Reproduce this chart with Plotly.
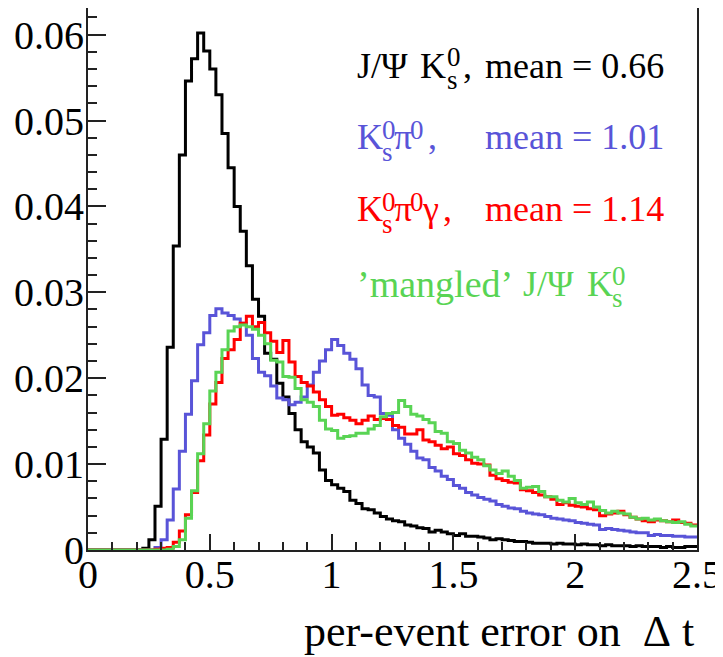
import plotly.graph_objects as go

# ---- data: histogram contents, 100 bins of width 0.025 over [0, 2.5] ----
X_MIN = 0.0
BIN_WIDTH = 0.025
N_BINS = 100

jpsi_ks = [
    0, 0, 0, 0, 0, 0, 0, 0, 0, 0.0002,
    0.0012, 0.0051, 0.0129, 0.0236, 0.0354, 0.0460, 0.0546, 0.0572, 0.0602, 0.0581,
    0.0560, 0.0530, 0.0485, 0.0445, 0.0400, 0.0371, 0.0331, 0.0292, 0.0272, 0.0229,
    0.0222, 0.0194, 0.0178, 0.0159, 0.0140, 0.0126, 0.0120, 0.0113, 0.0093, 0.0081,
    0.0076, 0.0072, 0.0068, 0.0058, 0.0054, 0.0048, 0.0047, 0.0043, 0.0039, 0.0036,
    0.0034, 0.0033, 0.0029, 0.0028, 0.0026, 0.0025, 0.0021, 0.0023, 0.0021, 0.0019,
    0.0017, 0.0019, 0.0016, 0.0016, 0.0015, 0.0014, 0.0012, 0.0013, 0.0012, 0.0011,
    0.0010, 0.0010, 0.0009, 0.0008, 0.0008, 0.0008, 0.0007, 0.0008, 0.0007, 0.0007,
    0.0006, 0.0007, 0.0006, 0.0006, 0.0005, 0.0006, 0.0005, 0.0005, 0.0005, 0.0004,
    0.0005, 0.0004, 0.0004, 0.0004, 0.0003, 0.0004, 0.0003, 0.0003, 0.0004, 0.0004,
]

ks_pi0 = [
    0, 0, 0, 0, 0, 0, 0, 0, 0, 0,
    0, 0.0003, 0.0012, 0.0035, 0.0071, 0.0115, 0.0158, 0.0197, 0.0239, 0.0253,
    0.0273, 0.0281, 0.0276, 0.0273, 0.0269, 0.0264, 0.0250, 0.0223, 0.0207, 0.0203,
    0.0191, 0.0177, 0.0175, 0.0169, 0.0172, 0.0178, 0.0192, 0.0207, 0.0220, 0.0233,
    0.0245, 0.0238, 0.0229, 0.0222, 0.0211, 0.0192, 0.0180, 0.0178, 0.0159, 0.0157,
    0.0140, 0.0130, 0.0123, 0.0115, 0.0107, 0.0105, 0.0096, 0.0092, 0.0086, 0.0082,
    0.0075, 0.0072, 0.0067, 0.0064, 0.0061, 0.0059, 0.0057, 0.0053, 0.0051, 0.0049,
    0.0048, 0.0045, 0.0043, 0.0042, 0.0041, 0.0039, 0.0037, 0.0036, 0.0035, 0.0034,
    0.0032, 0.0031, 0.0030, 0.0029, 0.0024, 0.0025, 0.0024, 0.0023, 0.0022, 0.0021,
    0.0020, 0.0020, 0.0017, 0.0018, 0.0017, 0.0017, 0.0016, 0.0016, 0.0015, 0.0015,
]

ks_pi0_gamma = [
    0, 0, 0, 0, 0, 0, 0, 0, 0, 0,
    0, 0.0001, 0.0002, 0.0003, 0.0009, 0.0022, 0.0041, 0.0067, 0.0104, 0.0134,
    0.0170, 0.0195, 0.0223, 0.0233, 0.0245, 0.0264, 0.0272, 0.0260, 0.0265, 0.0253,
    0.0243, 0.0230, 0.0244, 0.0219, 0.0202, 0.0195, 0.0191, 0.0184, 0.0175, 0.0167,
    0.0157, 0.0158, 0.0154, 0.0151, 0.0147, 0.0151, 0.0156, 0.0152, 0.0153, 0.0152,
    0.0145, 0.0143, 0.0135, 0.0135, 0.0140, 0.0128, 0.0126, 0.0122, 0.0118, 0.0120,
    0.0112, 0.0110, 0.0105, 0.0101, 0.0100, 0.0099, 0.0087, 0.0083, 0.0081, 0.0079,
    0.0078, 0.0070, 0.0069, 0.0067, 0.0064, 0.0062, 0.0059, 0.0053, 0.0055, 0.0052,
    0.0051, 0.0050, 0.0048, 0.0047, 0.0040, 0.0042, 0.0043, 0.0045, 0.0041, 0.0038,
    0.0036, 0.0034, 0.0033, 0.0035, 0.0034, 0.0033, 0.0035, 0.0032, 0.0031, 0.0029,
]

mangled_jpsi_ks = [
    0, 0, 0, 0, 0, 0, 0, 0, 0, 0,
    0, 0, 0, 0.0001, 0.0004, 0.0012, 0.0037, 0.0069, 0.0112, 0.0147,
    0.0185, 0.0207, 0.0233, 0.0255, 0.0260, 0.0262, 0.0260, 0.0257, 0.0250, 0.0240,
    0.0221, 0.0219, 0.0202, 0.0201, 0.0188, 0.0175, 0.0172, 0.0167, 0.0151, 0.0141,
    0.0139, 0.0130, 0.0132, 0.0133, 0.0136, 0.0136, 0.0141, 0.0145, 0.0155, 0.0159,
    0.0160, 0.0174, 0.0167, 0.0158, 0.0156, 0.0152, 0.0148, 0.0138, 0.0136, 0.0126,
    0.0124, 0.0116, 0.0113, 0.0108, 0.0105, 0.0098, 0.0093, 0.0089, 0.0092, 0.0086,
    0.0081, 0.0072, 0.0073, 0.0074, 0.0068, 0.0062, 0.0062, 0.0058, 0.0056, 0.0060,
    0.0055, 0.0053, 0.0056, 0.0050, 0.0046, 0.0043, 0.0045, 0.0043, 0.0042, 0.0038,
    0.0036, 0.0037, 0.0035, 0.0036, 0.0034, 0.0033, 0.0032, 0.0033, 0.0030, 0.0028,
]

series_names = ["J/Ψ K_s^0", "K_s^0 π^0", "K_s^0 π^0 γ", "'mangled' J/Ψ K_s^0"]
series_means = ["0.66", "1.01", "1.14", None]
colors = ["#000000", "#5954d8", "#ff0000", "#59d454"]

x_ticks = [0, 0.5, 1, 1.5, 2, 2.5]
x_tick_text = ["0", "0.5", "1", "1.5", "2", "2.5"]
y_ticks = [0, 0.01, 0.02, 0.03, 0.04, 0.05, 0.06]
y_tick_text = ["0", "0.01", "0.02", "0.03", "0.04", "0.05", "0.06"]
x_title = "per-event error on\u00a0\u00a0Δ\u00a0t"

FONT = "Liberation Serif"

edges = [X_MIN + i * BIN_WIDTH for i in range(N_BINS + 1)]

fig = go.Figure()
for vals, col, name in zip([jpsi_ks, ks_pi0, ks_pi0_gamma, mangled_jpsi_ks], colors, series_names):
    fig.add_trace(go.Scatter(
        x=edges, y=list(vals) + [vals[-1]],
        mode="lines", line=dict(color=col, width=3, shape="hv"),
        name=name, showlegend=False, hoverinfo="skip",
    ))

axis_common = dict(
    showline=True, linecolor="#222222", linewidth=2, mirror=True,
    ticks="inside", tickcolor="#222222", tickwidth=1.5,
    showgrid=False, zeroline=False, automargin=False,
    tickfont=dict(family=FONT, size=40, color="black"),
)

# page body has an 8px default margin: the figure is shifted accordingly
fig.update_layout(
    width=715, height=649,
    margin=dict(l=80, r=26, t=0, b=107),
    paper_bgcolor="white", plot_bgcolor="white",
    font=dict(family=FONT),
    xaxis=dict(range=[0, 2.5], tickvals=x_ticks, ticktext=x_tick_text, ticklen=16,
               ticklabelstandoff=-12,
               minor=dict(dtick=0.1, tick0=0, ticks="inside", ticklen=8, tickcolor="#222222", tickwidth=1.5),
               **axis_common),
    yaxis=dict(range=[0, 0.0631], tickvals=y_ticks, ticktext=y_tick_text, ticklen=18,
               ticklabelstandoff=-6,
               minor=dict(dtick=0.002, tick0=0, ticks="inside", ticklen=9, tickcolor="#222222", tickwidth=1.5),
               **axis_common),
)

# screen-pixel -> paper coordinates (plot area spans x 88..697, y 8..550 on screen)
def px2paper(px, py):
    return (px - 88) / 609.0, (550 - py) / 542.0

ann = []

def add_text(text, px, py, color, size=36, anchor="left"):
    x, y = px2paper(px, py)
    ann.append(dict(x=x, y=y, xref="paper", yref="paper", xanchor=anchor, yanchor="middle",
                    text=text, showarrow=False, font=dict(family=FONT, size=size, color=color)))

SMALL = 27

# x axis title, right-aligned at the axis end
add_text(x_title, 696, 631, "black", size=44, anchor="right")

# legend-like labels (stacked sub/superscripts as in the original)
c0, c1, c2, c3 = colors
# line 1
add_text("J/Ψ", 355, 66, c0)
add_text("K", 418, 66, c0)
add_text("0", 445, 57, c0, SMALL)
add_text("s", 445, 80, c0, SMALL)
add_text(",", 461, 66, c0)
add_text("mean = " + series_means[0], 483, 66, c0)
# line 2
add_text("K", 355, 137, c1)
add_text("0", 380, 130, c1, SMALL)
add_text("s", 380, 152, c1, SMALL)
add_text("π", 392, 137, c1)
add_text("0", 408, 130, c1, SMALL)
add_text(",", 426, 137, c1)
add_text("mean = " + series_means[1], 483, 137, c1)
# line 3
add_text("K", 355, 209, c2)
add_text("0", 380, 202, c2, SMALL)
add_text("s", 380, 224, c2, SMALL)
add_text("π", 392, 209, c2)
add_text("0", 408, 202, c2, SMALL)
add_text("γ", 420, 209, c2)
add_text(",", 441, 209, c2)
add_text("mean = " + series_means[2], 483, 209, c2)
# line 4
add_text("\u2019mangled\u2019", 355, 284, c3, 38)
add_text("J/Ψ", 521, 284, c3)
add_text("K", 585, 284, c3)
add_text("0", 610, 276, c3, SMALL)
add_text("s", 610, 298, c3, SMALL)

fig.update_layout(annotations=ann)
fig.write_html("out.html")
